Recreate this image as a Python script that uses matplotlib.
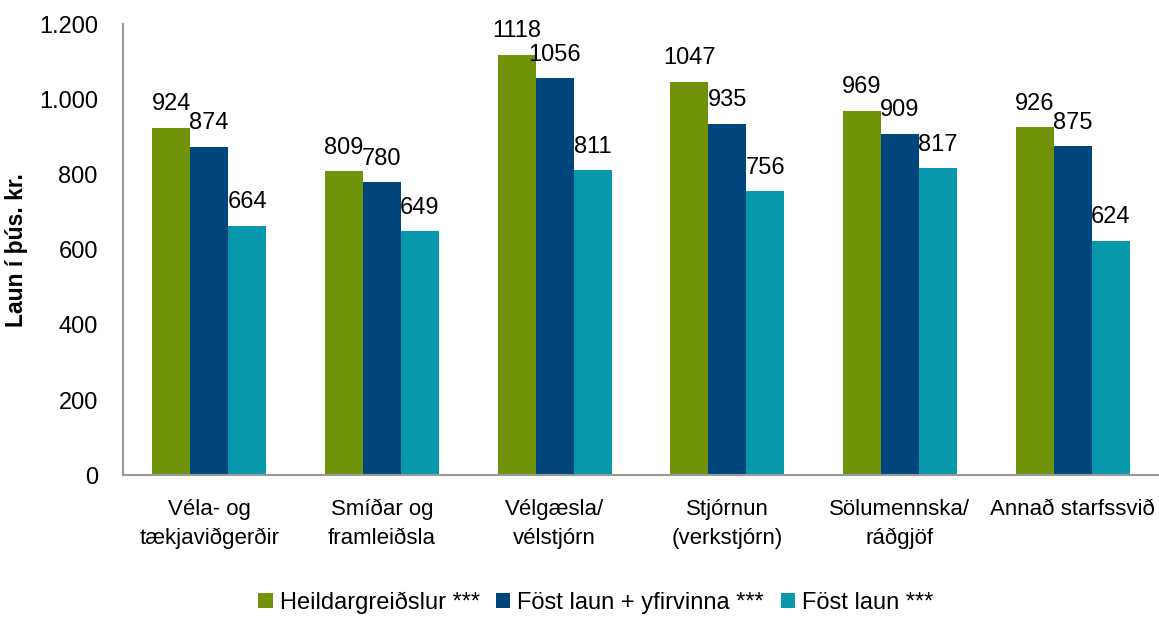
import numpy as np
import matplotlib
matplotlib.use("Agg")
import matplotlib.pyplot as plt
from matplotlib.ticker import FuncFormatter

plt.rcParams['font.family'] = ['Liberation Sans', 'DejaVu Sans']

categories = ["Véla- og\ntækjaviðgerðir", "Smíðar og\nframleiðsla", "Vélgæsla/\nvélstjórn",
              "Stjórnun\n(verkstjórn)", "Sölumennska/\nráðgjöf", "Annað starfssvið"]
series = ["Heildargreiðslur ***", "Föst laun + yfirvinna ***", "Föst laun ***"]
heild = [924, 809, 1118, 1047, 969, 926]
yfirv = [874, 780, 1056, 935, 909, 875]
fost = [664, 649, 811, 756, 817, 624]
colors = ["#71930a", "#00467c", "#0898ab"]

fig = plt.figure(figsize=(11.59, 6.18), dpi=100)
ax = fig.add_axes([0.106, 0.231, 0.894, 0.73])

x = np.arange(len(categories))
w = 0.22
for k, (vals, name, c) in enumerate(zip([heild, yfirv, fost], series, colors)):
    bars = ax.bar(x + (k - 1) * w, vals, w, color=c, label=name)
    for b, v in zip(bars, vals):
        ax.annotate(str(v), (b.get_x() + b.get_width() / 2, v), xytext=(0, 9),
                    textcoords="offset points", ha="center", va="bottom", fontsize=17)

ax.set_xlim(-0.5, 5.5)
ax.set_ylim(0, 1200)
ax.set_yticks(range(0, 1201, 200))
ax.yaxis.set_major_formatter(FuncFormatter(lambda v, p: f"{int(v):,}".replace(",", ".")))
ax.set_xticks(x)
ax.set_xticklabels(categories, fontsize=16, linespacing=1.5)
ax.tick_params(axis='y', labelsize=17, length=0, pad=18)
ax.tick_params(axis='x', length=0, pad=17)
ax.set_ylabel("Laun í þús. kr.", fontsize=16.5, fontweight="bold", labelpad=8)

for s in ["top", "right"]:
    ax.spines[s].set_visible(False)
for s in ["left", "bottom"]:
    ax.spines[s].set_color("#999999")
    ax.spines[s].set_linewidth(1.5)

fig.legend(loc="center", bbox_to_anchor=(0.514, 1 - 603 / 618), ncol=3, frameon=False,
           fontsize=17, handlelength=0.6, handleheight=0.6, handletextpad=0.3,
           columnspacing=0.7, borderpad=0)

fig.savefig("out.png", dpi=100)
